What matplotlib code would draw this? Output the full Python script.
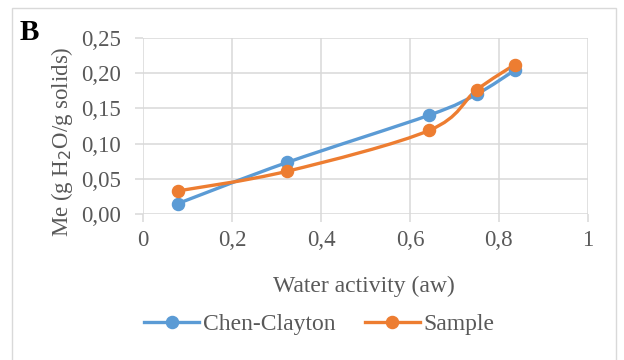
import matplotlib
matplotlib.use("Agg")
import matplotlib.pyplot as plt
import numpy as np
from matplotlib.path import Path
from matplotlib.patches import PathPatch, Rectangle
from matplotlib.lines import Line2D
from matplotlib.ticker import FuncFormatter, MultipleLocator

aw = [0.077, 0.324, 0.644, 0.750, 0.836]
chen_clayton = [0.015, 0.0735, 0.1405, 0.170, 0.204]
sample = [0.033, 0.061, 0.119, 0.176, 0.212]
series_names = ["Chen-Clayton", "Sample"]
colors = ["#5B9BD5", "#ED7D31"]

plt.rcParams['font.family'] = ['Liberation Serif', 'DejaVu Serif']
txt = "#595959"
grid_c = "#D9D9D9"

fig = plt.figure(figsize=(6.24, 3.6), dpi=100)
fig.patch.set_facecolor("white")
fig.patches.append(Rectangle((11.5/624, -0.1), (616-11.5)/624, 1 - 8.3/360 + 0.1,
                             transform=fig.transFigure, fill=False, edgecolor=grid_c,
                             linewidth=1.0, figure=fig))

ax = fig.add_axes([143.3/624, 1-214.3/360, (587.7-143.3)/624, (214.3-37.7)/360])
ax.set_xlim(0, 1)
ax.set_ylim(0, 0.25)
ax.xaxis.set_major_locator(MultipleLocator(0.2))
ax.yaxis.set_major_locator(MultipleLocator(0.05))

def fx(v, p):
    if abs(v) < 1e-9:
        return "0"
    if abs(v - 1) < 1e-9:
        return "1"
    return ("%.1f" % v).replace('.', ',')
ax.xaxis.set_major_formatter(FuncFormatter(fx))
ax.yaxis.set_major_formatter(FuncFormatter(lambda v, p: ("%.2f" % v).replace('.', ',')))

ax.grid(True, color=grid_c, linewidth=1.1)
ax.set_axisbelow(True)
for s in ax.spines.values():
    s.set_visible(False)
ax.tick_params(axis='both', colors=grid_c, labelcolor=txt, labelsize=16.5, length=6, width=1.1)
ax.tick_params(axis='x', pad=5)
ax.tick_params(axis='y', pad=10)

def smooth_path(xs, ys):
    pts = np.column_stack([xs, ys])
    n = len(pts)
    verts = [pts[0]]
    codes = [Path.MOVETO]
    for i in range(n - 1):
        p0 = pts[i - 1] if i > 0 else pts[i]
        p1 = pts[i]
        p2 = pts[i + 1]
        p3 = pts[i + 2] if i + 2 < n else pts[i + 1]
        c1 = p1 + (p2 - p0) / 6.0
        c2 = p2 - (p3 - p1) / 6.0
        verts += [c1, c2, p2]
        codes += [Path.CURVE4] * 3
    return Path(verts, codes)

for ys, c in zip([chen_clayton, sample], colors):
    ax.add_patch(PathPatch(smooth_path(aw, ys), facecolor='none', edgecolor=c,
                           linewidth=2.4, capstyle='round', joinstyle='round', zorder=3))
    ax.plot(aw, ys, linestyle='none', marker='o', markersize=8.7, color=c, zorder=4)

fig.text(363.7/624, 1-291.7/360, "Water activity (aw)", ha='center', va='baseline',
         fontsize=17, color=txt)
fig.text(62/624, 1-141.5/360, "Me (g H$_2$O/g solids)", rotation=90, ha='center', va='center',
         fontsize=16.5, color=txt)
fig.text(20/624, 1-32/360, "B", fontsize=21, fontweight='bold', ha='left', va='center', color='black')

handles = [Line2D([0], [0], color=c, linewidth=2.4, marker='o', markersize=8.7) for c in colors]
leg = fig.legend(handles, series_names, loc='center', bbox_to_anchor=(319.5/624, 1-324/360),
                 ncol=2, frameon=False, fontsize=17, handlelength=2.3, handletextpad=0.17,
                 columnspacing=1.27, labelcolor=txt, borderpad=0, borderaxespad=0)

fig.savefig("out.png", dpi=100, facecolor="white")
